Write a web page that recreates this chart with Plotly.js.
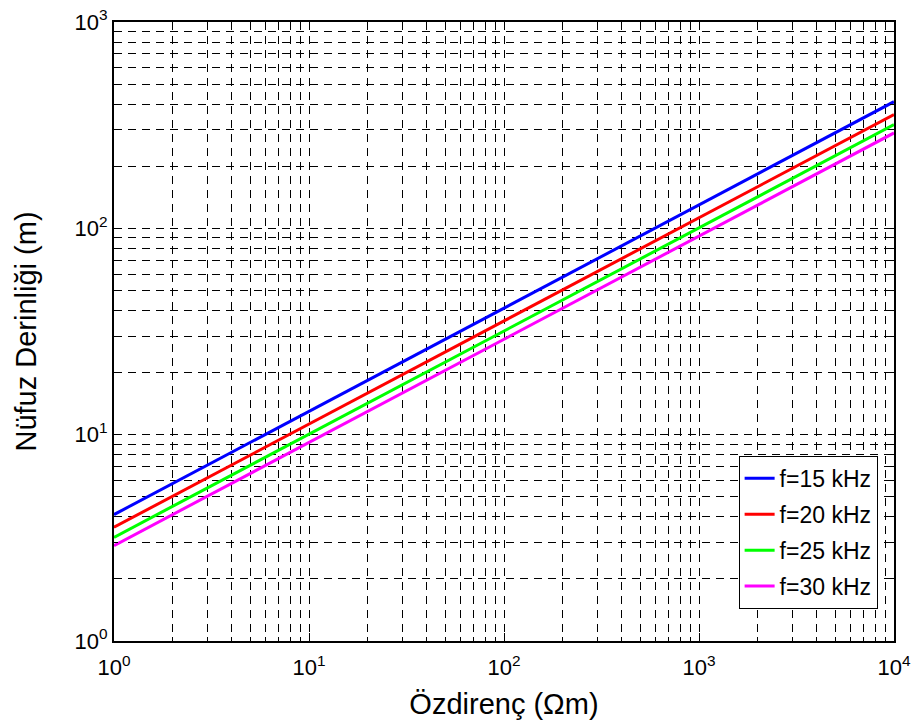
<!DOCTYPE html>
<html><head><meta charset="utf-8">
<script src="https://cdn.plot.ly/plotly-3.0.1.min.js"></script>
<style>html,body{margin:0;padding:0;background:#fff}</style>
</head><body>
<div id="chart" style="width:915px;height:726px"></div>
<script>
const resistivity = [1, 10, 100, 1000, 10000];
const depth15 = [4.1, 13.0, 41.1, 130, 411];
const depth20 = [3.56, 11.25, 35.6, 112.5, 356];
const depth25 = [3.18, 10.06, 31.8, 100.6, 318];
const depth30 = [2.90, 9.18, 29.0, 91.8, 290];
const seriesNames = ['f=15 kHz', 'f=20 kHz', 'f=25 kHz', 'f=30 kHz'];
const seriesColors = ['#0000ff', '#ff0000', '#00ff00', '#ff00ff'];
const xTickVals = [1, 10, 100, 1000, 10000];
const xTickText = ['10<sup>0</sup>', '10<sup>1</sup>', '10<sup>2</sup>', '10<sup>3</sup>', '10<sup>4</sup>'];
const yTickVals = [1, 10, 100, 1000];
const yTickText = ['10<sup>0</sup>', '10<sup>1</sup>', '10<sup>2</sup>', '10<sup>3</sup>'];

function minorVals(decades) {
  const out = [];
  for (let i = 0; i < decades.length - 1; i++)
    for (let k = 2; k <= 9; k++) out.push(decades[i] * k);
  return out;
}

const ys = [depth15, depth20, depth25, depth30];
const traces = ys.map((y, i) => ({
  x: resistivity, y: y, type: 'scatter', mode: 'lines', name: seriesNames[i],
  legendgroup: 'g' + i,
  line: {color: seriesColors[i], width: 3}
}));

const font = {family: 'Liberation Sans, Arial, sans-serif', color: '#000'};
const gridDash = '8px,6px';
const axisCommon = {
  type: 'log', showline: true, linecolor: '#000', linewidth: 2, mirror: 'allticks',
  ticks: 'inside', ticklen: 8, tickcolor: '#000', tickwidth: 1,
  showgrid: true, gridcolor: '#000', gridwidth: 1, griddash: gridDash,
  zeroline: false, tickmode: 'array',
  tickfont: Object.assign({size: 22}, font)
};

const layout = {
  width: 915, height: 726,
  margin: {l: 114, r: 21, t: 22, b: 85},
  paper_bgcolor: '#fff', plot_bgcolor: '#fff',
  font: font,
  showlegend: true,
  legend: {
    x: 0.979, y: 0.299, xanchor: 'right', yanchor: 'top',
    bgcolor: '#fff', bordercolor: '#000', borderwidth: 1,
    font: Object.assign({size: 23}, font), tracegroupgap: 3
  },
  xaxis: Object.assign({}, axisCommon, {
    range: [0, 4], tickvals: xTickVals, ticktext: xTickText, ticklabelstandoff: 6,
    minor: {tickmode: 'array', tickvals: minorVals(xTickVals), ticks: 'inside', ticklen: 4,
            tickcolor: '#000', showgrid: true, gridcolor: '#000', gridwidth: 1, griddash: gridDash},
    title: {text: 'Özdirenç (Ωm)', font: Object.assign({size: 29}, font), standoff: 14}
  }),
  yaxis: Object.assign({}, axisCommon, {
    range: [0, 3], tickvals: yTickVals, ticktext: yTickText,
    minor: {tickmode: 'array', tickvals: minorVals(yTickVals), ticks: 'inside', ticklen: 4,
            tickcolor: '#000', showgrid: true, gridcolor: '#000', gridwidth: 1, griddash: gridDash},
    title: {text: 'Nüfuz Derinliği (m)', font: Object.assign({size: 29}, font), standoff: 29}
  })
};

Plotly.newPlot('chart', traces, layout, {displayModeBar: false, staticPlot: true});
</script>
</body></html>
